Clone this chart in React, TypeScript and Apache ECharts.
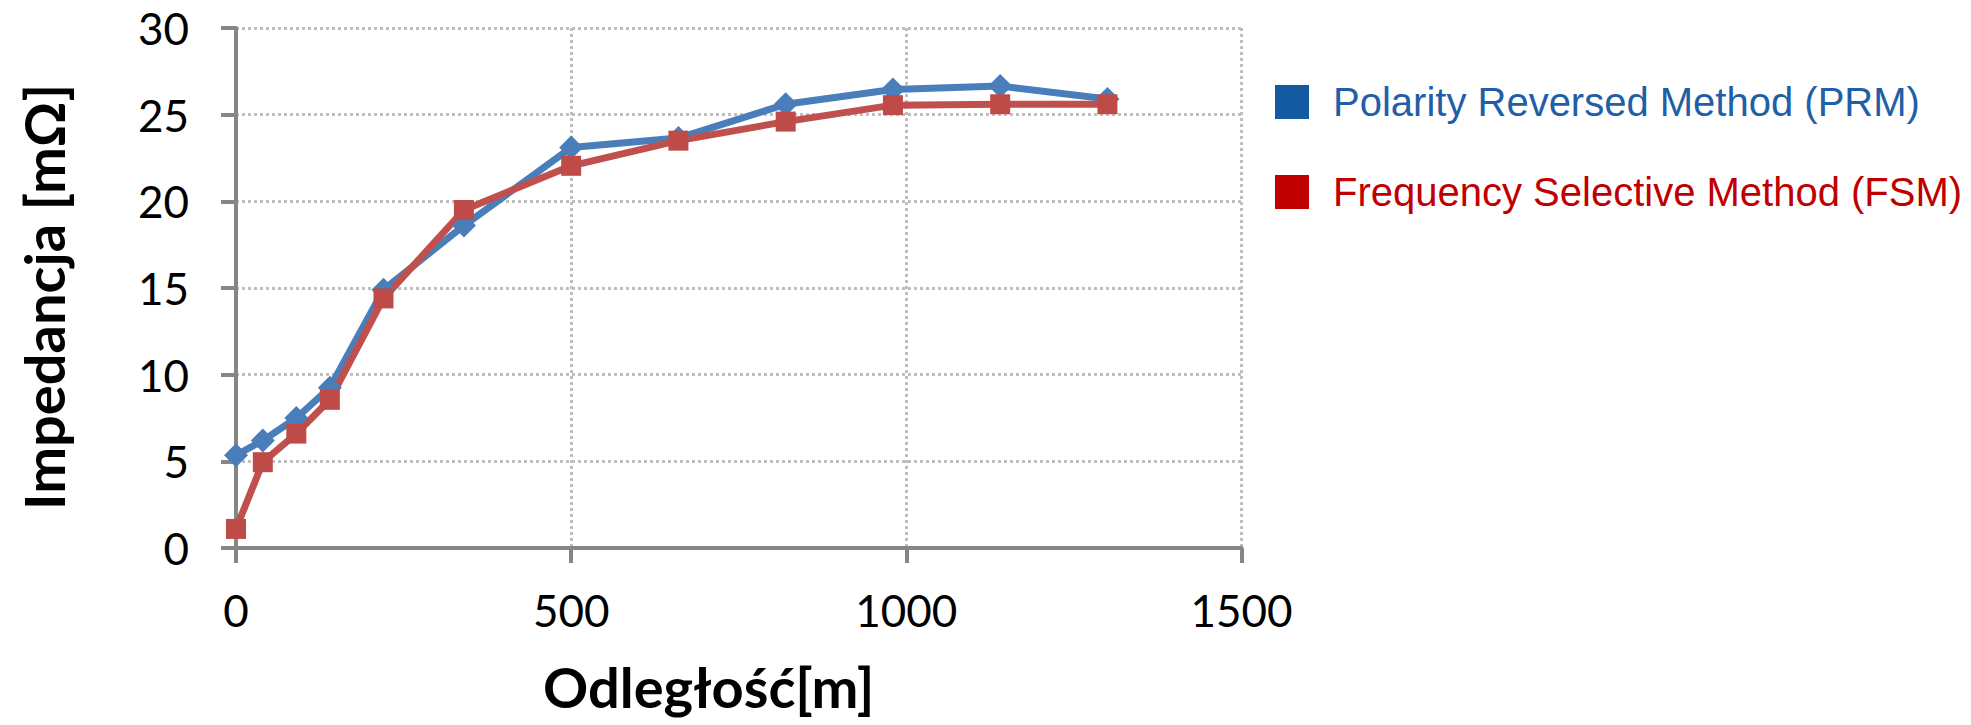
import React, { useEffect, useRef } from "react";
import * as echarts from "echarts";

const distances = [0, 40, 90, 140, 220, 340, 500, 660, 820, 980, 1140, 1300];
const prmValues = [5.35, 6.2, 7.5, 9.25, 14.9, 18.6, 23.1, 23.65, 25.6, 26.45, 26.65, 25.9];
const fsmValues = [1.1, 4.95, 6.6, 8.55, 14.4, 19.5, 22.05, 23.5, 24.6, 25.55, 25.6, 25.6];
const seriesNames = ["Polarity Reversed Method (PRM)", "Frequency Selective Method (FSM)"];
const xTitle = "Odległość[m]";
const yTitle = "Impedancja [mΩ]";

export default function App() {
  const ref = useRef<HTMLDivElement>(null);
  useEffect(() => {
    if (!ref.current) return;
    const chart = echarts.init(ref.current, null, { renderer: "svg" });
    const axisLine = { show: true, lineStyle: { color: "#868686", width: 4 } };
    const axisTick = { show: true, inside: false, length: 15, lineStyle: { color: "#868686", width: 4 } };
    const splitLine = { show: true, lineStyle: { color: "#BFBFBF", width: 3, type: [3, 3] as any } };
    chart.setOption({
      animation: false,
      backgroundColor: "#ffffff",
      grid: { left: 236, right: 729.5, top: 28, bottom: 177, containLabel: false },
      xAxis: {
        type: "value",
        min: 0,
        max: 1500,
        interval: 500,
        axisLine,
        axisTick,
        splitLine,
        axisLabel: { fontFamily: "Lato", fontSize: 44, color: "#000", margin: 40, formatter: (v: number) => String(v) },
        name: xTitle,
        nameLocation: "middle",
        nameGap: 110,
        nameTextStyle: { fontFamily: "Lato", fontWeight: "bold", fontSize: 56, color: "#000", padding: [0, 60, 0, 0] },
      },
      yAxis: {
        type: "value",
        min: 0,
        max: 30,
        interval: 5,
        axisLine,
        axisTick,
        splitLine,
        axisLabel: { fontFamily: "Lato", fontSize: 44, color: "#000", margin: 47, formatter: (v: number) => String(v) },
        name: yTitle,
        nameLocation: "middle",
        nameGap: 165,
        nameTextStyle: { fontFamily: "Lato", fontWeight: "bold", fontSize: 56, color: "#000", padding: [0, 18, 0, 0] },
      },
      legend: {
        orient: "vertical",
        left: 1270,
        top: 77,
        itemWidth: 34,
        itemHeight: 34,
        itemGap: 50,
        icon: "rect",
        data: [
          { name: seriesNames[0], itemStyle: { color: "#145AA0" }, textStyle: { color: "#1F5FA8" } },
          { name: seriesNames[1], itemStyle: { color: "#C00000" }, textStyle: { color: "#C00000" } },
        ],
        textStyle: { fontFamily: "Liberation Sans", fontSize: 40, padding: [0, 0, 0, 19] },
      },
      series: [
        {
          name: seriesNames[0],
          type: "line",
          data: distances.map((d, i) => [d, prmValues[i]]),
          symbol: "diamond",
          symbolSize: 24,
          lineStyle: { color: "#4A7EBB", width: 7 },
          itemStyle: { color: "#4A7EBB" },
        },
        {
          name: seriesNames[1],
          type: "line",
          data: distances.map((d, i) => [d, fsmValues[i]]),
          symbol: "rect",
          symbolSize: 20,
          lineStyle: { color: "#C0504D", width: 7 },
          itemStyle: { color: "#BE4B48" },
        },
      ],
    });
    return () => chart.dispose();
  }, []);
  return (
    <div
      ref={ref}
      style={{ position: "fixed", left: 0, top: 0, width: 1971, height: 725, background: "#fff" }}
    />
  );
}
